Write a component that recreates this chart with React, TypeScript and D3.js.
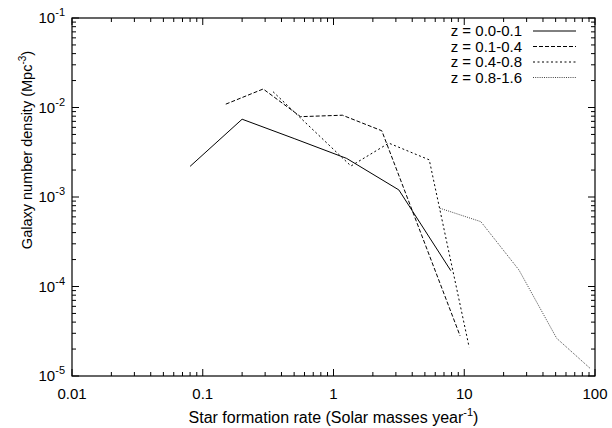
import React from "react";
import * as d3 from "d3";

// star formation rate (x) vs galaxy number density (y), per redshift bin
const sfr00_01 = [0.08, 0.2, 0.5, 1.26, 3.16, 7.9];
const dens00_01 = [2.2e-3, 7.4e-3, 4.5e-3, 2.7e-3, 1.2e-3, 1.5e-4];

const sfr01_04 = [0.15, 0.29, 0.56, 1.17, 2.34, 9.3];
const dens01_04 = [1.09e-2, 1.61e-2, 7.9e-3, 8.2e-3, 5.5e-3, 2.8e-5];

const sfr04_08 = [0.345, 1.36, 2.65, 5.4, 10.9];
const dens04_08 = [1.5e-2, 2.22e-3, 4.0e-3, 2.6e-3, 2.1e-5];

const sfr08_16 = [6.5, 13.4, 26.2, 50.9, 91.6];
const dens08_16 = [7.5e-4, 5.3e-4, 1.53e-4, 2.64e-5, 1.22e-5];

const labels = ["z = 0.0-0.1", "z = 0.1-0.4", "z = 0.4-0.8", "z = 0.8-1.6"];
const xTickLabels = ["0.01", "0.1", "1", "10", "100"];
const yExponents = [-1, -2, -3, -4, -5];

const series = [
  { label: labels[0], x: sfr00_01, y: dens00_01, dash: null, color: "#000" },
  { label: labels[1], x: sfr01_04, y: dens01_04, dash: "4,2", color: "#000" },
  { label: labels[2], x: sfr04_08, y: dens04_08, dash: "2,2.5", color: "#000" },
  { label: labels[3], x: sfr08_16, y: dens08_16, dash: "1,1.2", color: "#444" },
];

const W = 612;
const H = 428;
const margin = { left: 72, right: 17, top: 18, bottom: 52 };
const font = "'Liberation Sans', Arial, Helvetica, sans-serif";

export default function App() {
  const x = d3
    .scaleLog()
    .domain([0.01, 100])
    .range([margin.left, W - margin.right]);
  const y = d3
    .scaleLog()
    .domain([1e-5, 1e-1])
    .range([H - margin.bottom, margin.top]);

  const x0 = margin.left;
  const x1 = W - margin.right;
  const y0 = H - margin.bottom;
  const y1 = margin.top;

  const line = d3
    .line<[number, number]>()
    .x((d) => x(d[0]))
    .y((d) => y(d[1]));

  // minor ticks 2..9 per decade
  const xMinor: number[] = [];
  [0.01, 0.1, 1, 10].forEach((dec) => {
    for (let k = 2; k <= 9; k++) xMinor.push(dec * k);
  });
  const yMinor: number[] = [];
  [1e-5, 1e-4, 1e-3, 1e-2].forEach((dec) => {
    for (let k = 2; k <= 9; k++) yMinor.push(dec * k);
  });
  const xMajor = xTickLabels.map(Number);
  const yMajor = yExponents.map((e) => Math.pow(10, e));

  const legendX = 522;
  const legendY0 = 31;
  const legendStep = 15.5;

  return (
    <svg
      width={W}
      height={H}
      style={{ position: "absolute", left: 0, top: 0, background: "#fff" }}
      fontFamily={font}
    >
      <rect width={W} height={H} fill="#fff" />
      {/* tick marks, all four sides */}
      <g stroke="#000" strokeWidth={1}>
        {xMajor.map((v) => (
          <g key={"xM" + v}>
            <line x1={x(v)} x2={x(v)} y1={y0} y2={y0 - 7} />
            <line x1={x(v)} x2={x(v)} y1={y1} y2={y1 + 7} />
          </g>
        ))}
        {xMinor.map((v) => (
          <g key={"xm" + v}>
            <line x1={x(v)} x2={x(v)} y1={y0} y2={y0 - 4} />
            <line x1={x(v)} x2={x(v)} y1={y1} y2={y1 + 4} />
          </g>
        ))}
        {yMajor.map((v) => (
          <g key={"yM" + v}>
            <line x1={x0} x2={x0 + 7} y1={y(v)} y2={y(v)} />
            <line x1={x1} x2={x1 - 7} y1={y(v)} y2={y(v)} />
          </g>
        ))}
        {yMinor.map((v) => (
          <g key={"ym" + v}>
            <line x1={x0} x2={x0 + 4} y1={y(v)} y2={y(v)} />
            <line x1={x1} x2={x1 - 4} y1={y(v)} y2={y(v)} />
          </g>
        ))}
      </g>
      <rect
        x={x0}
        y={y1}
        width={x1 - x0}
        height={y0 - y1}
        fill="none"
        stroke="#000"
        strokeWidth={1.2}
      />

      {/* tick labels */}
      <g fontSize={15} fill="#000">
        {xTickLabels.map((t) => (
          <text key={t} x={x(+t)} y={y0 + 23} textAnchor="middle">
            {t}
          </text>
        ))}
        {yExponents.map((e) => (
          <text key={e} x={x0 - 7} y={y(Math.pow(10, e)) + 5} textAnchor="end">
            10
            <tspan fontSize={11} dy={-7}>
              {e}
            </tspan>
          </text>
        ))}
      </g>

      {/* axis titles */}
      <text
        x={(x0 + x1) / 2}
        y={423}
        fontSize={16}
        textAnchor="middle"
        fill="#000"
      >
        Star formation rate (Solar masses year
        <tspan fontSize={11} dy={-7}>
          -1
        </tspan>
        <tspan dy={7}>)</tspan>
      </text>
      <text
        transform={`translate(32,150) rotate(-90)`}
        fontSize={14.5}
        textAnchor="middle"
        fill="#000"
      >
        Galaxy number density (Mpc
        <tspan fontSize={10} dy={-6}>
          -3
        </tspan>
        <tspan dy={6}>)</tspan>
      </text>

      {/* data */}
      {series.map((s) => (
        <path
          key={s.label}
          d={line(s.x.map((v, i) => [v, s.y[i]] as [number, number])) || ""}
          fill="none"
          stroke={s.color}
          strokeWidth={1}
          strokeDasharray={s.dash || undefined}
        />
      ))}

      {/* legend */}
      {series.map((s, i) => (
        <g key={"lg" + i}>
          <text
            x={legendX}
            y={legendY0 + i * legendStep + 5}
            fontSize={15}
            textAnchor="end"
            fill="#000"
          >
            {s.label}
          </text>
          <line
            x1={533}
            x2={576}
            y1={legendY0 + i * legendStep}
            y2={legendY0 + i * legendStep}
            stroke={s.color}
            strokeWidth={1}
            strokeDasharray={s.dash || undefined}
          />
        </g>
      ))}
    </svg>
  );
}
